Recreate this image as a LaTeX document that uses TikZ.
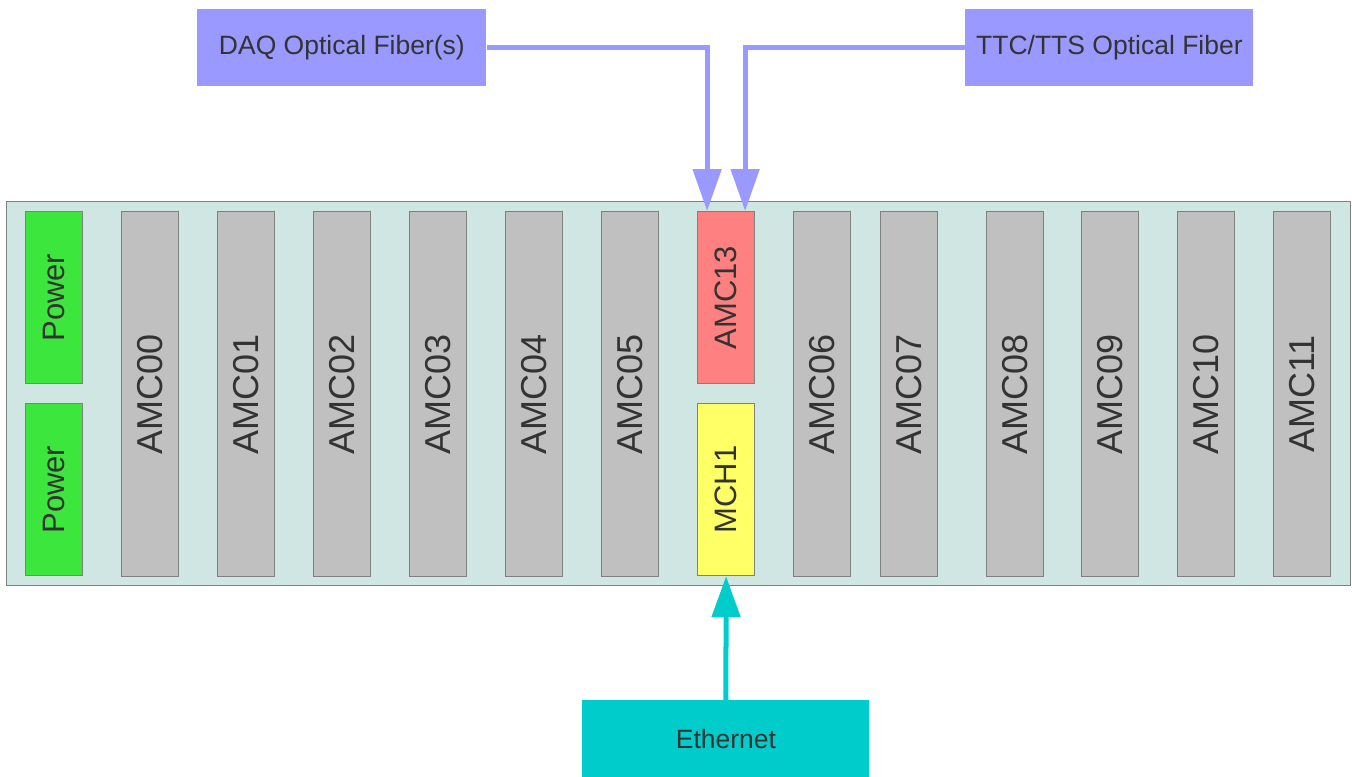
\documentclass[tikz,border=0pt]{standalone}
\usepackage{fontspec}
\setmainfont{Liberation Sans}
\usetikzlibrary{arrows.meta}
\definecolor{crate}{HTML}{CFE6E3}
\definecolor{slotgray}{HTML}{C0C0C0}
\definecolor{pwrgreen}{HTML}{3DE63D}
\definecolor{amcred}{HTML}{FF8080}
\definecolor{mchyellow}{HTML}{FFFF66}
\definecolor{fiberblue}{HTML}{9999FF}
\definecolor{ethcyan}{HTML}{00CCCC}
\definecolor{txt}{HTML}{333333}
\tikzset{
  box/.style={anchor=north west, inner sep=0pt, draw=gray, line width=0.6pt, text=txt},
  slot/.style={box, fill=slotgray, minimum width=28.5pt, minimum height=182.5pt, font=\fontsize{18}{18}\selectfont},
  half/.style={box, minimum width=28.5pt, minimum height=86pt, font=\fontsize{15.5}{15.5}\selectfont},
  ext/.style={anchor=north west, inner sep=0pt, minimum height=38.5pt, text=txt, font=\fontsize{13.25}{13.25}\selectfont},
  fiber/.style={draw=fiberblue, line width=2.5pt, -{Triangle[width=14pt,length=21pt]}},
}
\begin{document}
\begin{tikzpicture}[x=0.5pt,y=0.5pt,yscale=-1,xscale=1]
        \useasboundingbox (0,0) rectangle (1352,776);

        %Shape: Crate
        \node [box, fill=crate, minimum width=672pt, minimum height=192pt] (crate) at (6,201) {};

        % Power modules
        \node [half, fill=pwrgreen] (pwr1) at (25,211) {\rotatebox{90}{Power}};
        \node [half, fill=pwrgreen] (pwr2) at (25,403) {\rotatebox{90}{Power}};

        % AMC slots
        \foreach \name/\xx in {00/121,01/217,02/313,03/409,04/505,05/601,06/793,07/880,08/986,09/1081,10/1177,11/1273}
          \node [slot] (amc\name) at (\xx,211) {\rotatebox{90}{AMC\name}};

        \node [half, fill=amcred] (amc13) at (697,211) {\rotatebox{90}{AMC13}};
        \node [half, fill=mchyellow] (mch1) at (697,403) {\rotatebox{90}{MCH1}};

        % External links
        \node [ext, fill=fiberblue, minimum width=144.5pt] (daq) at (197,9) {DAQ Optical Fiber(s)};
        \node [ext, fill=fiberblue, minimum width=144pt] (ttc) at (965,9) {TTC/TTS Optical Fiber};
        \node [ext, fill=ethcyan, minimum width=143.5pt] (eth) at (582,700) {Ethernet};

        % Connectors
        \draw [fiber] (daq.east) -| ([xshift=-9.5pt]amc13.north);
        \draw [fiber] (ttc.west) -| ([xshift=9.5pt]amc13.north);
        \draw [draw=ethcyan, line width=2.5pt, -{Triangle[width=14pt,length=20.5pt]}] (eth.north) -- (mch1.south);

\end{tikzpicture}
\end{document}
